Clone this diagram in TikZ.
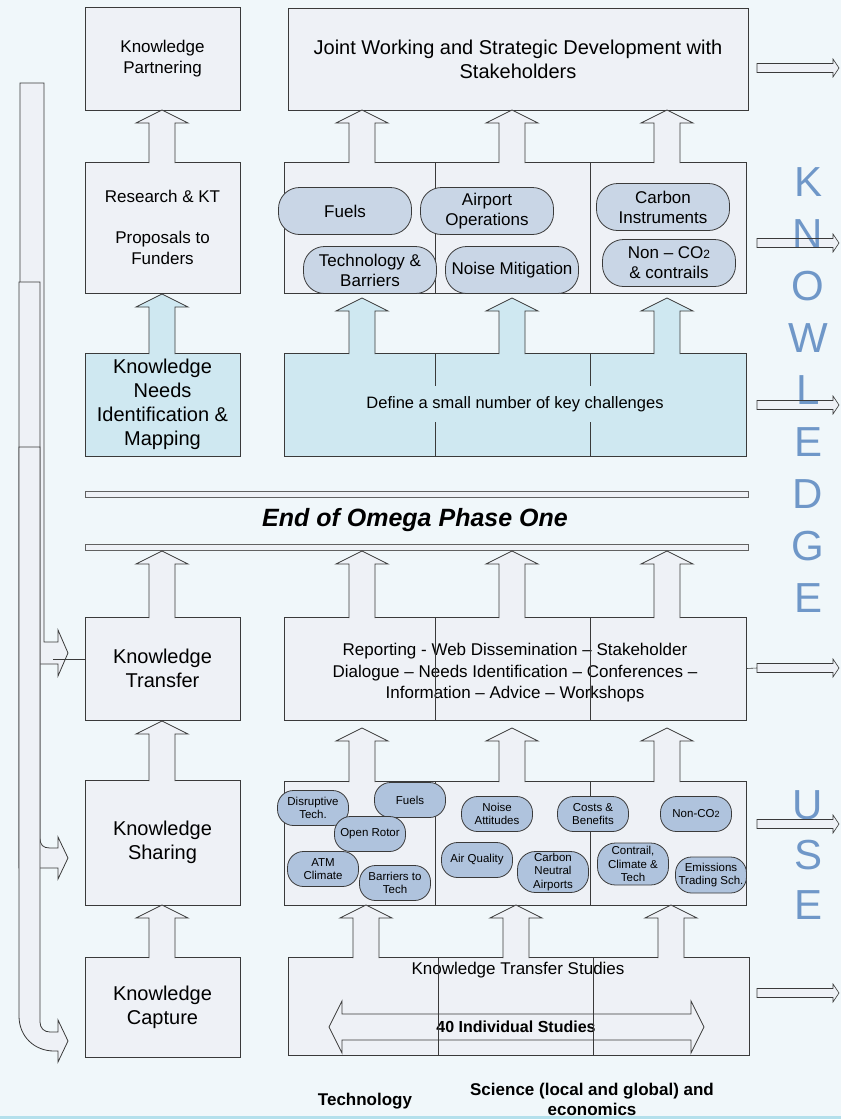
\documentclass[tikz,border=0pt]{standalone}
\usepackage{fontspec}
\setmainfont{Liberation Sans}
\definecolor{bg}{HTML}{F0F7FA}
\definecolor{boxfill}{HTML}{EEF1F6}
\definecolor{bord}{HTML}{3A3A3A}
\definecolor{lblue}{HTML}{CFE8F1}
\definecolor{tpillc}{HTML}{C9D6E6}
\definecolor{bpillc}{HTML}{AFC3DD}
\definecolor{kcol}{HTML}{6F97C8}
\definecolor{stripc}{HTML}{B3E0EC}
\newcommand\fs[2]{\fontsize{#1}{#2}\selectfont}
\newcommand\UpArr[4][boxfill]{\filldraw[fill=#1,draw=bord,line width=0.8pt] (#2-13,#4) -- (#2-13,#3+13) -- (#2-26,#3+13) -- (#2,#3) -- (#2+26,#3+13) -- (#2+13,#3+13) -- (#2+13,#4);}
\newcommand\RArrPath[1]{(757,#1-4.5) -- (833,#1-4.5) -- (833,#1-9) -- (839,#1) -- (833,#1+9) -- (833,#1+4.5) -- (757,#1+4.5) -- cycle}
\newcommand\RArrFill[1]{\fill[boxfill] \RArrPath{#1};}
\newcommand\RArrLine[1]{\draw[bord,line width=0.6pt] \RArrPath{#1};}
\begin{document}
\begin{tikzpicture}[x=1pt,y=-1pt,
  box/.style={draw=bord,fill=boxfill,line width=0.8pt,inner sep=0pt,align=center},
  lbox/.style={box,fill=lblue},
  tpill/.style={draw=bord,fill=tpillc,line width=0.8pt,rounded corners=21pt,minimum width=133pt,minimum height=47pt,inner sep=0pt,align=center,font=\fs{17}{20}},
  bpill/.style={draw=bord,fill=bpillc,line width=0.8pt,rounded corners=16pt,minimum width=71pt,minimum height=35pt,inner sep=0pt,align=center,font=\fs{11.5}{13.5}},
  divl/.style={draw=bord,line width=0.8pt},
  kletter/.style={text=kcol,font=\fs{42}{42},inner sep=0pt},
  bar/.style={draw=bord!80,fill=boxfill,line width=0.8pt}]
\useasboundingbox (0,0) rectangle (841,1119);
\fill[bg] (0,0) rectangle (841,1119);
\fill[stripc] (0,1116) rectangle (841,1119);

% left bent arrows
\filldraw[fill=boxfill,draw=bord,line width=0.8pt] (20,83) -- (44,83) -- (44,642) -- (58,642) -- (58,630) -- (68,653) -- (58,676) -- (58,664) -- (20,664) -- cycle;
\filldraw[fill=boxfill,draw=bord,line width=0.8pt] (19,282) -- (40,282) -- (40,838) .. controls (40,845) and (43,848) .. (50,848) -- (58,848) -- (58,837) -- (68,858) -- (58,879) -- (58,868) -- (19,868) -- cycle;
\filldraw[fill=boxfill,draw=bord,line width=0.8pt] (19,447) -- (40,447) -- (40,1022) .. controls (40,1028) and (44,1032) .. (50,1032) -- (58,1032) -- (58,1020) -- (68,1041) -- (58,1062) -- (58,1051) -- (54,1051) .. controls (35,1051) and (19,1037) .. (19,1016) -- cycle;

% ---- top section
\node[box,minimum width=155pt,minimum height=103pt,font=\fs{17}{21}] (kp) at (162.5,58.5) {Knowledge\\Partnering};
\node[box,minimum width=460pt,minimum height=102pt,font=\fs{20}{24}] (jw) at (518,59) {Joint Working and Strategic Development with\\Stakeholders};
\node[box,minimum width=155pt,minimum height=131pt,font=\fs{17}{20.5}] (res) at (162.5,227.5) {Research \& KT\\[20.5pt]Proposals to\\Funders};
\node[box,minimum width=462pt,minimum height=131pt] (tp) at (515,227.5) {};
\draw[divl] (435,162) -- (435,293);
\draw[divl] (590,162) -- (590,293);
\node[lbox,minimum width=155pt,minimum height=103pt,font=\fs{20}{24}] (kn) at (162.5,404.5) {Knowledge\\Needs\\Identification \&\\Mapping};
\node[lbox,minimum width=462pt,minimum height=103pt,font=\fs{16.5}{19}] (def) at (515,404.5) {Define a small number of key challenges};
\draw[divl] (435,353) -- (435,386) (435,422) -- (435,456);
\draw[divl] (590,353) -- (590,386) (590,422) -- (590,456);

\UpArr{162}{110}{163}
\UpArr{362}{110}{163}
\UpArr{512}{110}{163}
\UpArr{667}{110}{163}
\UpArr[lblue]{162}{294}{354}
\UpArr[lblue]{362}{298}{354}
\UpArr[lblue]{512}{298}{354}
\UpArr[lblue]{667}{298}{354}

\node[tpill] (pf) at (345,211) {Fuels};
\node[tpill] (ptb) at (370,270) {Technology \&\\Barriers};
\node[tpill] (pao) at (487,211) {Airport\\Operations};
\node[tpill] (pnm) at (512,270) {Noise Mitigation};
\node[tpill] (pci) at (663,207) {Carbon\\Instruments};
\node[tpill] (pnc) at (669,263) {Non -- CO{\fs{12}{12}2}\\\& contrails};

% ---- phase bars
\node[bar,minimum width=663pt,minimum height=6pt,inner sep=0pt] (bar1) at (416.5,494) {};
\node[bar,minimum width=663pt,minimum height=6pt,inner sep=0pt] (bar2) at (416.5,547) {};
\node[font=\fs{25}{28}\bfseries\itshape] (eop) at (415,520) {End of Omega Phase One};

% ---- lower section
\node[box,minimum width=155pt,minimum height=103pt,font=\fs{20}{24}] (ktr) at (162.5,668.5) {Knowledge\\Transfer};
\node[box,minimum width=462pt,minimum height=103pt] (rep) at (515,668.5) {};
\node[align=center,font=\fs{17}{21.5},inner sep=0pt] (rept) at (515,673) {Reporting - Web Dissemination -- Stakeholder\\Dialogue -- Needs Identification -- Conferences --\\Information -- Advice -- Workshops};
\draw[divl] (435,617) -- (435,720);
\draw[divl] (590,617) -- (590,720);

\node[box,minimum width=155pt,minimum height=125pt,font=\fs{20}{24}] (ksh) at (162.5,842.5) {Knowledge\\Sharing};
\node[box,minimum width=462pt,minimum height=124pt] (bp) at (515,843) {};
\draw[divl] (435,781) -- (435,905);
\draw[divl] (590,781) -- (590,905);

\node[box,minimum width=155pt,minimum height=100pt,font=\fs{20}{24}] (kca) at (162.5,1007) {Knowledge\\Capture};
\node[box,minimum width=461pt,minimum height=98pt] (kts) at (518.5,1006) {};
\node[font=\fs{17}{20}] (ktst) at (518,970) {Knowledge Transfer Studies};
\filldraw[fill=boxfill,draw=bord,line width=0.8pt] (329,1027) -- (342,1001) -- (342,1014) -- (691,1014) -- (691,1001) -- (704,1027) -- (691,1053) -- (691,1040) -- (342,1040) -- (342,1053) -- cycle;
\node[font=\fs{16}{19}\bfseries] (ind) at (516,1027) {40 Individual Studies};
\draw[divl] (438,957) -- (438,1055);
\draw[divl] (593,957) -- (593,1055);

\UpArr{162}{551}{618}
\UpArr{362}{551}{618}
\UpArr{512}{551}{618}
\UpArr{667}{551}{618}
\UpArr{162}{721}{781}
\UpArr{362}{728}{782}
\UpArr{512}{728}{782}
\UpArr{667}{728}{782}
\UpArr{162}{905}{958}
\UpArr{366}{905}{958}
\UpArr{516}{905}{958}
\UpArr{671}{905}{958}

% bottom pills
\node[bpill] (b1) at (313,808) {Disruptive\\Tech.};
\node[bpill] (b2) at (410,800) {Fuels};
\node[bpill] (b3) at (370,834) {Open Rotor};
\node[bpill] (b4) at (323,869) {ATM\\Climate};
\node[bpill] (b5) at (395,883) {Barriers to\\Tech};
\node[bpill] (b6) at (497,814) {Noise\\Attitudes};
\node[bpill] (b7) at (593,814) {Costs \&\\Benefits};
\node[bpill] (b8) at (696,814) {Non-CO{\fs{9}{9}2}};
\node[bpill] (b9) at (477,860) {Air Quality};
\node[bpill,minimum height=41pt,rounded corners=18pt] (b10) at (553,872) {Carbon\\Neutral\\Airports};
\node[bpill,minimum height=42pt,rounded corners=18pt] (b11) at (633,864) {Contrail,\\Climate \&\\Tech};
\node[bpill,minimum height=36pt] (b12) at (711,875) {Emissions\\Trading Sch.};

% connector from bent arrow to Knowledge Transfer
\coordinate (lc) at (53,659);
\draw[bord,line width=0.8pt] (lc) -- (ktr.west |- lc);

% right arrows (fill first)
\RArrFill{68}
\RArrFill{243}
\RArrFill{405}
\RArrFill{668}
\RArrFill{824}
\RArrFill{993}

% KNOWLEDGE USE letters
\node[kletter] (k1) at (808,182) {K};
\node[kletter] (k2) at (808,234) {N};
\node[kletter] (k3) at (808,286) {O};
\node[kletter] (k4) at (808,338) {W};
\node[kletter] (k5) at (808,390) {L};
\node[kletter] (k6) at (808,442) {E};
\node[kletter] (k7) at (808,494) {D};
\node[kletter] (k8) at (808,546) {G};
\node[kletter] (k9) at (808,598) {E};
\node[kletter] (u1) at (808,805) {U};
\node[kletter] (u2) at (808,855) {S};
\node[kletter] (u3) at (808,905) {E};

% right arrow outlines over the letters
\RArrLine{68}
\RArrLine{243}
\RArrLine{405}
\coordinate (ra4) at (757,668);
\draw[bord,line width=0.6pt] (rep.east) -- (ra4);
\RArrLine{668}
\RArrLine{824}
\RArrLine{993}

% bottom labels
\node[anchor=base,font=\fs{17}{20}\bfseries] (lt) at (365,1105) {Technology};
\node[anchor=base,font=\fs{17}{20}\bfseries] (ls1) at (592,1095) {Science (local and global) and};
\node[anchor=base,font=\fs{17}{20}\bfseries] (ls2) at (592,1115) {economics};
\end{tikzpicture}
\end{document}
